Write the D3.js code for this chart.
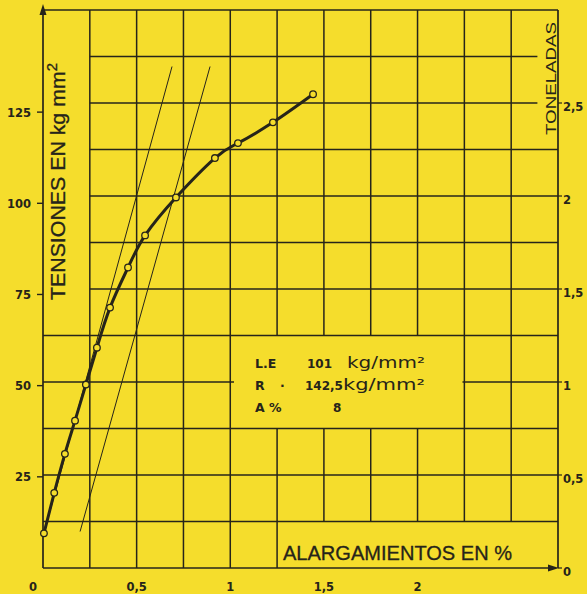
<!DOCTYPE html>
<html><head><meta charset="utf-8">
<script src="https://cdn.jsdelivr.net/npm/d3@7"></script>
<style>
html,body{margin:0;padding:0;background:#f5dd2c;}
svg{display:block;}
</style></head>
<body>
<svg id="c" width="587" height="594"></svg>
<script>
// ---- data ----
const elongation = [0.005, 0.06, 0.117, 0.171, 0.229, 0.288, 0.358, 0.454, 0.545, 0.71, 0.918, 1.041, 1.228, 1.442];
const stress     = [9.5, 20.6, 31.3, 40.4, 50.3, 60.4, 71.4, 82.4, 91.2, 101.6, 112.4, 116.5, 122.2, 129.9];
const tangentA   = [[0.005, 9.5], [0.689, 137.5]];
const tangentB   = [[0.198, 10], [0.892, 137.5]];
const xTicks     = [0, 0.5, 1, 1.5, 2];
const xTickLabels= ["0", "0,5", "1", "1,5", "2"];
const leftTicks  = [25, 50, 75, 100, 125];
const rightTicks = [0, 0.5, 1, 1.5, 2, 2.5];
const rightTickLabels = ["0", "0,5", "1", "1,5", "2", "2,5"];
const legendRows = [["L.E", "101", "kg/mm²"], ["R", "142,5", "kg/mm²"], ["A %", "8", ""]];

const ink = "#26241a";
const svg = d3.select("#c");
const x  = d3.scaleLinear().domain([0, 2.75]).range([43, 558]);
const yL = d3.scaleLinear().domain([0, 153]).range([568, 10]);
const yR = d3.scaleLinear().domain([0, 3]).range([568, 10]);

const g = svg.append("g").attr("stroke", ink).attr("fill", "none");

// vertical grid lines (with gaps like the original)
const vSteps = d3.range(0.25, 2.75, 0.25).map(v => +v.toFixed(2));
vSteps.forEach(v => {
  const segs = [];
  const yTop = yR(3), yBot = v >= 1.5 ? yR(0.25) : yR(0);
  if (v >= 1.25 && v <= 2.0) {
    segs.push([yTop, yR(1.25)], [yR(0.75), yBot]);
  } else segs.push([yTop, yBot]);
  segs.forEach(s => g.append("line").attr("x1", x(v)).attr("x2", x(v)).attr("y1", s[0]).attr("y2", s[1]).attr("stroke-width", 1.5));
});
// horizontal grid lines
const hSteps = d3.range(0.25, 3, 0.25).map(v => +v.toFixed(2));
hSteps.forEach(v => {
  let x1 = v >= 1.5 ? x(0.25) : x(0);
  let x2 = v >= 2.5 ? x(2.64) : x(2.75);
  const segs = (v === 1) ? [[x(0), x(1.02)], [x(2.24), x(2.75)]] : [[x1, x2]];
  segs.forEach(s => g.append("line").attr("x1", s[0]).attr("x2", s[1]).attr("y1", yR(v)).attr("y2", yR(v)).attr("stroke-width", 1.5));
});
// frame: top and right border
g.append("line").attr("x1", x(0)).attr("x2", x(2.75)).attr("y1", yR(3)).attr("y2", yR(3)).attr("stroke-width", 1.5);
g.append("line").attr("x1", x(2.75)).attr("x2", x(2.75)).attr("y1", yR(3)).attr("y2", yR(0)).attr("stroke-width", 1.7);
// left axis with arrow
g.append("line").attr("x1", x(0)).attr("x2", x(0)).attr("y1", yL(0)).attr("y2", 12).attr("stroke-width", 1.7);
svg.append("path").attr("d", `M${x(0)},4 L${x(0)-3.5},15 L${x(0)+3.5},15 Z`).attr("fill", ink);
// bottom axis with arrow
g.append("line").attr("x1", x(0)).attr("x2", x(2.75) - 6).attr("y1", yR(0)).attr("y2", yR(0)).attr("stroke-width", 1.7);
svg.append("path").attr("d", `M${x(2.75)+1},${yR(0)} L${x(2.75)-10},${yR(0)-3.5} L${x(2.75)-10},${yR(0)+3.5} Z`).attr("fill", ink);

// left ticks
leftTicks.forEach(v => {
  g.append("line").attr("x1", x(0) - 6).attr("x2", x(0)).attr("y1", yL(v)).attr("y2", yL(v)).attr("stroke-width", 1.4);
});
svg.append("g").selectAll("text").data(leftTicks).join("text")
  .attr("x", 31).attr("y", d => yL(d) + 4.5).attr("text-anchor", "end")
  .attr("font-family", "DejaVu Sans").attr("font-weight", "bold").attr("font-size", 11.5).attr("fill", ink)
  .text(d => d);
// right ticks
rightTicks.forEach(v => {
  g.append("line").attr("x1", x(2.75)).attr("x2", x(2.75) + 4).attr("y1", yR(v)).attr("y2", yR(v)).attr("stroke-width", 1.2);
});
svg.append("g").selectAll("text").data(rightTicks).join("text")
  .attr("x", 563).attr("y", d => yR(d) + 8).attr("text-anchor", "start")
  .attr("font-family", "DejaVu Sans").attr("font-weight", "bold").attr("font-size", 11.5).attr("fill", ink)
  .text((d, i) => rightTickLabels[i]);
// bottom tick labels
svg.append("g").selectAll("text").data(xTicks).join("text")
  .attr("x", d => x(d) + (d === 0 ? -10 : 0)).attr("y", 591).attr("text-anchor", "middle")
  .attr("font-family", "DejaVu Sans").attr("font-weight", "bold").attr("font-size", 11.5).attr("fill", ink)
  .text((d, i) => xTickLabels[i]);

// tangent lines
[tangentA, tangentB].forEach(t => {
  g.append("line").attr("x1", x(t[0][0])).attr("y1", yL(t[0][1])).attr("x2", x(t[1][0])).attr("y2", yL(t[1][1])).attr("stroke-width", 1);
});

// curve
const pts = elongation.map((e, i) => [e, stress[i]]);
const line = d3.line().x(d => x(d[0])).y(d => yL(d[1])).curve(d3.curveNatural);
g.append("path").attr("d", line(pts)).attr("stroke-width", 3).attr("stroke-linecap", "round");
svg.append("g").selectAll("circle").data(pts).join("circle")
  .attr("cx", d => x(d[0])).attr("cy", d => yL(d[1])).attr("r", 3.3)
  .attr("fill", "#f5dd2c").attr("stroke", ink).attr("stroke-width", 1.3);

// axis titles
const tL = svg.append("text").attr("transform", "translate(65,300) rotate(-90)")
  .attr("font-family", "Liberation Sans, Arial").attr("font-size", 20).attr("fill", ink)
  .attr("stroke", ink).attr("stroke-width", 0.3)
  .attr("textLength", 237).attr("lengthAdjust", "spacingAndGlyphs");
tL.append("tspan").text("TENSIONES  EN  kg  mm");
tL.append("tspan").attr("dy", -8).attr("font-size", 14).text("2");

svg.append("text").attr("transform", "translate(556,135) rotate(-90)")
  .attr("font-family", "Liberation Sans, Arial").attr("font-size", 15).attr("fill", ink)
  .attr("textLength", 113).attr("lengthAdjust", "spacingAndGlyphs").text("TONELADAS");

svg.append("text").attr("x", 283).attr("y", 560)
  .attr("font-family", "Liberation Sans, Arial").attr("font-size", 20).attr("fill", ink)
  .attr("stroke", ink).attr("stroke-width", 0.3)
  .attr("textLength", 229).attr("lengthAdjust", "spacingAndGlyphs").text("ALARGAMIENTOS EN %");

// legend
const lg = svg.append("g").attr("font-family", "DejaVu Sans").attr("fill", ink);
const rowY = [368, 390, 412];
legendRows.forEach((r, i) => {
  lg.append("text").attr("x", 255).attr("y", rowY[i]).attr("font-size", 12.5).attr("font-weight", "bold").text(r[0]);
  if (i === 1) lg.append("text").attr("x", 280).attr("y", rowY[i]).attr("font-size", 12.5).attr("font-weight", "bold").text("·");
  lg.append("text").attr("x", i === 2 ? 333 : (i === 0 ? 307 : 305)).attr("y", rowY[i]).attr("font-size", 12).attr("font-weight", "bold").text(r[1]);
  if (r[2]) lg.append("text").attr("x", i === 0 ? 347 : 343).attr("y", rowY[i]).attr("font-size", 16)
    .attr("textLength", i === 0 ? 78 : 82).attr("lengthAdjust", "spacingAndGlyphs").text(r[2]);
});
</script>
</body></html>
